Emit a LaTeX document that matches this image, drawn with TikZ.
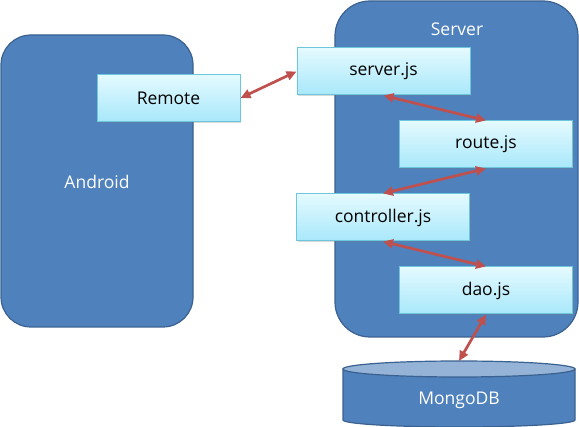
\documentclass[tikz,border=0pt]{standalone}
\usepackage{fontspec}
\setmainfont{Open Sans}
\usetikzlibrary{arrows.meta,shadows}
\definecolor{tierblue}{HTML}{4F81BD}
\definecolor{tieredge}{HTML}{3A6190}
\definecolor{modtop}{HTML}{E4FAFF}
\definecolor{modbot}{HTML}{A8E8FA}
\definecolor{modedge}{HTML}{6CC6DC}
\definecolor{linkred}{HTML}{C0504D}
\definecolor{dbface}{HTML}{95B3D7}
\begin{document}
\begin{tikzpicture}[x=1pt,y=-1pt,
  tier/.style={draw=tieredge,line width=1.2pt,fill=tierblue,rounded corners=30pt},
  tiertext/.style={text=white,font=\fontsize{17.5}{20}\selectfont},
  module/.style={draw=modedge,line width=1pt,top color=modtop,bottom color=modbot,
    minimum width=173pt,minimum height=47pt,inner sep=0pt,font=\fontsize{17.5}{20}\selectfont,
    drop shadow={shadow xshift=1pt,shadow yshift=-1.5pt,opacity=0.3}},
  link/.style={draw=linkred,line width=2.7pt,{Triangle[length=10pt,width=9pt]}-{Triangle[length=10pt,width=9pt]}}]
\useasboundingbox (0,0) rectangle (579,427);
\draw[tier] (1,35) rectangle (193,327);
\draw[tier,rounded corners=35pt] (335,1) rectangle (578,337);
\node[tiertext] (android) at (97,182) {Android};
\node[tiertext] (server) at (457,29) {Server};
\node[module,minimum width=143pt] (remote) at (168.5,98) {Remote};
\node[module] (serverjs) at (383.5,71.5) {server.js};
\node[module] (routejs) at (486,144.5) {route.js};
\node[module] (controllerjs) at (383,217.5) {controller.js};
\node[module] (daojs) at (486,290.5) {dao.js};
% database
\draw[fill=tierblue,draw=tieredge,line width=1.2pt] (343,369) -- (343,420) arc[start angle=180,end angle=360,x radius=116pt,y radius=7pt] -- (575,369) -- cycle;
\draw[fill=dbface,draw=tieredge,line width=1.2pt] (459,369) ellipse[x radius=116pt,y radius=8pt];
\node[tiertext] (mongo) at (459,400) {MongoDB};
\coordinate (mongotop) at (459,361);
% links
\draw[link] (remote.east) -- (serverjs.west);
\draw[link] (serverjs.south) -- (routejs.north);
\draw[link] (routejs.south) -- (controllerjs.north);
\draw[link] (controllerjs.south) -- (daojs.north);
\draw[link] (daojs.south) -- (mongotop);
\end{tikzpicture}
\end{document}
